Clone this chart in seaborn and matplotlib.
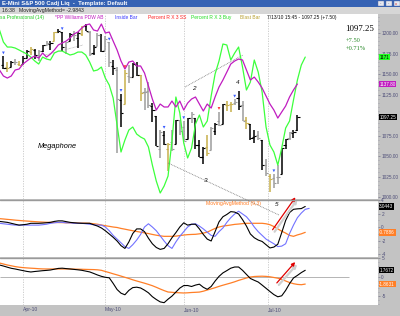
import matplotlib
matplotlib.use("Agg")
import numpy as np
import matplotlib.pyplot as plt
import seaborn as sns
from matplotlib.patches import Rectangle, FancyArrowPatch
from matplotlib.lines import Line2D

sns.set_style("white")
plt.rcParams["font.family"] = ["Liberation Sans", "DejaVu Sans"]

# ------------------------------------------------------------------ data
bar_idx = list(range(-5, 71))          # trading-day index, 0 = 1 Apr 2010
opens = [1161, 1158.5, 1158.75, 1164.75, 1162.75, 1162.25, 1169.75, 1177, 1179.25, 1172.75,
         1178.5, 1186, 1187, 1189.75, 1201.75, 1201.25, 1183, 1190, 1198.25, 1193.5,
         1199, 1208, 1201, 1175.5, 1184.25, 1197.75, 1179.5, 1188.5, 1160.25, 1155.5,
         1118, 1113.25, 1147.5, 1146.5, 1161, 1148.25, 1127.5, 1129.5, 1110.5, 1098.25,
         1058.25, 1075.75, 1058.5, 1066.5, 1065.25, 1093.5, 1085.25, 1071, 1096.75, 1096.5,
         1063.75, 1048.75, 1060.75, 1056.75, 1080.75, 1093, 1089.25, 1112, 1114, 1114.25,
         1120.75, 1112, 1093.5, 1089, 1073, 1075.5, 1069, 1038.5, 1026, 1022.75,
         1025, 1027.5, 1063, 1071.5, 1078.25, 1081.75]
highs = [1171.75, 1165, 1166, 1168.75, 1165.5, 1172.5, 1178.75, 1182.75, 1180.5, 1179.5,
         1185.75, 1190.25, 1190, 1201.75, 1205, 1201.25, 1189, 1199.5, 1202, 1201.25,
         1208.25, 1210.75, 1202.5, 1186, 1200.5, 1199, 1196, 1188.5, 1167, 1158.5,
         1126, 1155, 1161.5, 1164, 1164.5, 1148.25, 1133, 1139.75, 1115.25, 1098.25,
         1081.25, 1081, 1065.75, 1081.75, 1094.5, 1093.5, 1092.75, 1096.5, 1103.75, 1096.5,
         1069.5, 1061.25, 1075.75, 1086, 1090, 1104, 1113.5, 1116.75, 1115.75, 1119,
         1129.25, 1116.5, 1097.5, 1089, 1081.5, 1080.5, 1069, 1046, 1028.5, 1028,
         1039.5, 1060, 1071.25, 1079.25, 1081.75, 1099.5]
lows = [1156, 1152.5, 1158.75, 1161.5, 1159.5, 1161.75, 1169.75, 1173.75, 1168.25, 1166,
        1177, 1185.75, 1179.75, 1189.75, 1199.5, 1177.75, 1174.75, 1190, 1190, 1181.25,
        1196, 1202, 1172.5, 1172.75, 1184.25, 1177.25, 1179.5, 1159, 1149.25, 1054,
        1085.25, 1113.25, 1138.75, 1146.5, 1147, 1117, 1106, 1108.25, 1091.75, 1062.5,
        1047, 1063.75, 1031.75, 1056.5, 1065.25, 1075.75, 1068, 1070.25, 1089.75, 1058.5,
        1048.5, 1040.25, 1050.25, 1056.75, 1075.5, 1087, 1089.25, 1105, 1104, 1112,
        1106.25, 1092.25, 1082.75, 1069.5, 1066, 1069.5, 1033.25, 1026.25, 1005.75, 1011,
        1015.5, 1027.5, 1058.25, 1069, 1071.5, 1081]
closes = [1156.75, 1157.5, 1164.25, 1164.25, 1160.5, 1169, 1178.5, 1180.5, 1173.5, 1177.5,
          1185.5, 1187.5, 1188.25, 1201.75, 1202.75, 1183, 1188.5, 1198.25, 1197, 1199.75,
          1208.25, 1203, 1174.75, 1182.5, 1197.75, 1177.75, 1193.25, 1164.5, 1157, 1119.25,
          1102, 1150.75, 1146.75, 1162.75, 1148.5, 1126.75, 1128, 1111.75, 1106, 1062.5,
          1078.75, 1064.75, 1065, 1059, 1094, 1080.5, 1068.75, 1096.5, 1100.75, 1063,
          1048.5, 1060, 1053.75, 1084.75, 1089.5, 1087.5, 1113.25, 1112.5, 1114, 1115.5,
          1111.25, 1093.25, 1090, 1071.75, 1074.75, 1072.5, 1039.25, 1028.75, 1022.5, 1017.5,
          1025, 1059.25, 1070.25, 1079, 1079.75, 1097.25]
bar_kind = list("kykgykkykg" "kgkykkgkgk" "ykgkgkggkg" "kygkkyggkk"
                "gkygkggkgk" "kkygkgkyyg" "kgykkgkgyg" "gkkgkk")

line_idx = list(range(-6, 73))
green_line = [1203.7, 1189.0, 1182.9, 1182.9, 1181.7, 1179.3, 1176.8, 1174.4, 1170.7, 1165.9,
              1162.2, 1170.7, 1168.3, 1167.1, 1175.6, 1178.0, 1178.0, 1175.6, 1173.2, 1174.4,
              1176.8, 1176.8, 1173.2, 1164.6, 1153.7, 1154.9, 1158.5, 1145.1, 1136.6, 1120.7,
              1087.8, 1054.9, 1069.5, 1081.7, 1085.4, 1076.8, 1073.2, 1070.7, 1061.0, 1039.0,
              1019.5, 1004.9, 1013.4, 1025.6, 1068.3, 1122.0, 1102.4, 1065.9, 1047.6, 1059.8,
              1089.0, 1100.0, 1085.4, 1092.7, 1123.2, 1150.0, 1165.9, 1186.6, 1185.4, 1167.1,
              1175.6, 1182.9, 1158.5, 1130.5, 1140.2, 1167.1, 1152.4, 1128.0, 1085.4, 1063.4,
              1054.9, 1039.0, 1059.8, 1084.1, 1092.7, 1118.3, 1142.7, 1161.0, 1170.7]
magenta_idx = list(range(-6, 71))
magenta_line = [1154.9, 1147.6, 1145.1, 1147.6, 1154.9, 1156.1, 1162.2, 1165.9, 1169.5, 1172.0,
                1169.5, 1175.6, 1170.7, 1174.4, 1179.3, 1185.4, 1187.8, 1190.2, 1193.9, 1198.8,
                1201.2, 1206.1, 1209.8, 1211.0, 1203.7, 1202.4, 1211.0, 1200.0, 1201.2, 1190.2,
                1179.3, 1165.9, 1156.1, 1164.6, 1165.9, 1159.8, 1159.8, 1151.2, 1135.4, 1119.5,
                1106.1, 1113.4, 1109.8, 1109.8, 1117.1, 1109.8, 1117.1, 1106.1, 1114.6, 1119.5,
                1122.0, 1113.4, 1104.9, 1113.4, 1108.5, 1122.0, 1134.1, 1142.7, 1152.4, 1162.2,
                1165.9, 1168.3, 1167.1, 1154.9, 1142.7, 1146.3, 1140.2, 1132.9, 1123.2, 1113.4,
                1106.1, 1096.3, 1103.7, 1111.0, 1122.0, 1130.5, 1137.8]

osc1_black = [0.83, 0.76, 0.69, 0.55, 0.41, 0.28, 0.34, 0.41, 0.55, 0.55,
              0.55, 0.58, 0.63, 0.69, 0.83, 0.91, 0.91, 0.80, 0.69, 0.63,
              0.58, 0.55, 0.55, 0.55, 0.34, 0.14, -0.14, -0.55, -1.03, -1.52,
              -2.07, -2.76, -3.17, -2.21, -0.97, -0.28, -0.28, -0.69, -1.66, -2.48,
              -3.03, -3.31, -3.17, -2.48, -1.59, -0.83, 0.0, 0.62, 0.28, 0.41,
              0.41, -0.28, -1.10, -1.79, -2.07, -0.69, 0.76, 1.52, 1.86, 2.28,
              2.21, 1.93, 1.10, 0.14, -1.03, -1.59, -1.93, -2.14, -2.62, -3.10,
              -2.97, -2.55, -0.83, 0.97, 2.14, 2.62, 2.69, 2.73, 3.0443]
blue_idx = list(range(-6, 74))
osc1_blue = [0.55, 0.48, 0.41, 0.34, 0.28, 0.28, 0.28, 0.28, 0.28, 0.28,
             0.28, 0.34, 0.41, 0.55, 0.62, 0.69, 0.69, 0.62, 0.62, 0.55,
             0.55, 0.55, 0.48, 0.41, 0.34, 0.28, 0.28, 0.0, -0.55, -1.24,
             -1.79, -2.34, -2.90, -3.17, -2.62, -1.93, -1.10, 0.0, 0.48, 0.0,
             -0.55, -1.31, -2.07, -2.76, -3.17, -2.21, -1.38, -0.69, 0.0, 0.41,
             0.48, 0.14, -0.28, -0.76, -1.24, -1.38, -0.69, -0.14, 0.69, 1.38,
             1.93, 2.34, 1.93, 1.52, 0.83, 0.0, -0.69, -1.24, -1.79, -2.14,
             -2.48, -2.90, -2.83, -2.48, -0.97, 0.28, 1.38, 2.07, 2.62, 2.76]
osc1_orange = [1.24, 1.19, 1.13, 1.08, 1.02, 0.97, 0.92, 0.88, 0.84, 0.80,
               0.76, 0.73, 0.70, 0.69, 0.68, 0.66, 0.65, 0.63, 0.62, 0.61,
               0.59, 0.58, 0.57, 0.55, 0.48, 0.41, 0.30, 0.19, 0.10, 0.0,
               -0.07, -0.21, -0.32, -0.44, -0.55, -0.66, -0.76, -0.87, -0.97, -1.10,
               -1.21, -1.31, -1.38, -1.38, -1.38, -1.35, -1.27, -1.19, -1.13, -1.10,
               -1.08, -1.01, -0.90, -0.76, -0.48, -0.21, 0.0, 0.14, 0.21, 0.30,
               0.39, 0.44, 0.50, 0.55, 0.55, 0.55, 0.55, 0.55, 0.48, 0.34,
               0.07, -0.28, -0.62, -0.90, -1.24, -1.38, -1.17, -1.01, -0.7886]
osc2_black = [3.16, 2.89, 2.58, 2.29, 2.11, 1.89, 1.68, 1.47, 1.32, 1.45,
              1.55, 1.66, 1.74, 1.84, 2.05, 2.26, 2.32, 2.21, 2.11, 2.00,
              1.89, 1.76, 1.55, 1.34, 0.95, 0.53, 0.18, -0.08, -0.21, -1.68,
              -3.29, -4.26, -4.68, -3.53, -2.79, -2.68, -2.89, -3.47, -4.16, -5.18,
              -5.92, -6.55, -6.76, -5.84, -5.03, -3.97, -2.92, -2.26, -2.24, -2.50,
              -2.13, -1.89, -2.71, -3.24, -2.50, -1.08, 0.16, 1.08, 1.68, 2.32,
              2.63, 2.63, 1.76, 0.68, -0.39, -0.87, -1.32, -2.13, -2.97, -3.82,
              -4.63, -5.21, -4.95, -3.53, -1.74, -0.26, 0.42, 1.16, 1.7672]
osc2_orange = [3.68, 3.42, 3.16, 2.95, 2.74, 2.58, 2.47, 2.39, 2.32, 2.26,
               2.18, 2.13, 2.11, 2.11, 2.11, 2.11, 2.11, 2.11, 2.11, 2.08,
               2.05, 2.03, 2.00, 1.97, 1.95, 1.89, 1.76, 1.45, 1.16, 0.84,
               0.55, 0.24, -0.08, -0.39, -0.74, -1.05, -1.34, -1.63, -1.95, -2.29,
               -2.71, -3.16, -3.58, -3.95, -4.03, -4.11, -4.16, -4.21, -4.16, -4.08,
               -4.03, -3.97, -3.74, -3.42, -3.13, -2.82, -2.47, -2.16, -1.87, -1.58,
               -1.26, -0.89, -0.58, -0.26, 0.0, 0.13, 0.18, 0.21, 0.16, 0.05,
               -0.13, -0.32, -0.63, -1.05, -1.45, -1.76, -1.95, -2.03, -1.8631]

month_pos = [0, 20.9, 41.1, 62.5]
month_labels = ["Apr-10", "May-10", "Jun-10", "Jul-10"]
price_ticks = [1000, 1025, 1050, 1075, 1100, 1125, 1150, 1175, 1200]
inside_bar_days = [-5, 10, 22, 25, 36, 41, 54, 64]
percent_r_days = [26, 50]
upper_trend = ([41.3, 56.1], [1134.1, 1173.2])
left_trend = ([5.6, 15.3], [1173.2, 1185.4])

# ------------------------------------------------------------------ figure
W, H = 400, 316
fig = plt.figure(figsize=(W / 100, H / 100), dpi=100)
fig.patch.set_facecolor("#c3c3c3")


def px_rect(x0, y0, x1, y1):
    return [x0 / W, 1 - y1 / H, (x1 - x0) / W, (y1 - y0) / H]


def ftext(x, y, s, **kw):
    kw.setdefault("va", "center")
    return fig.text(x / W, 1 - y / H, s, **kw)


XL = -23 / 3.92
XR = (378 - 23) / 3.92
TICK_FS = 3.4

ax0 = fig.add_axes(px_rect(0, 14, 378, 199))
ax1 = fig.add_axes(px_rect(0, 200, 378, 257))
ax2 = fig.add_axes(px_rect(0, 258, 378, 305))
for ax in (ax0, ax1, ax2):
    ax.set_facecolor("white")
    ax.set_xlim(XL, XR)
    for s in ax.spines.values():
        s.set_visible(False)
    ax.yaxis.tick_right()
    ax.tick_params(axis="y", which="major", direction="out", length=1.6, width=0.5,
                   color="#7a7a90", labelsize=TICK_FS, labelcolor="#4e4e78", pad=0.8)
    ax.tick_params(axis="y", which="minor", direction="out", length=1.0, width=0.4,
                   color="#8a8aa0")
    for m in month_pos:
        ax.axvline(m, color="#c6c6c6", lw=0.6, ls=(0, (1.5, 1.5)), zorder=0)
    ax.set_xlabel("")
    ax.set_ylabel("")

# ---- main price panel (the 1100 label sits under the last-price box)
ax0.set_ylim(997.6, 1223.2)
ax0.set_yticks(price_ticks)
ax0.set_yticklabels(["" if v == 1100 else f"{v:.2f}" for v in price_ticks])
ax0.set_yticks(np.arange(1000, 1221, 5), minor=True)
ax0.set_xticks([])

col_map = {"k": "#000000", "g": "#9c9c9c", "y": "#c8b04c"}
cols = [col_map[c] for c in bar_kind]
bx = np.array(bar_idx, dtype=float)
ax0.vlines(bx, lows, highs, colors=cols, lw=1.1, zorder=3)
ax0.hlines(opens, bx - 0.55, bx, colors=cols, lw=0.8, zorder=3)
ax0.hlines(closes, bx, bx + 0.55, colors=cols, lw=0.8, zorder=3)

sns.lineplot(x=line_idx, y=green_line, ax=ax0, color="#3cff3c", lw=0.9,
             estimator=None, sort=False, legend=False, zorder=4)
sns.lineplot(x=magenta_idx, y=magenta_line, ax=ax0, color="#c01cc0", lw=0.9,
             estimator=None, sort=False, legend=False, zorder=4)

hi_map = dict(zip(bar_idx, highs))
sns.scatterplot(x=inside_bar_days, y=[hi_map[d] + 4 for d in inside_bar_days], ax=ax0,
                marker="v", s=4, color="#3a5cff", edgecolor="none", legend=False, zorder=5)
sns.scatterplot(x=percent_r_days, y=[hi_map[d] + 4 for d in percent_r_days], ax=ax0,
                marker="v", s=4, color="#ff3030", edgecolor="none", legend=False, zorder=5)

ax0.plot(*upper_trend, color="#7a7a7a", lw=0.6, ls=(0, (1, 1)), zorder=2)
ax0.plot(*left_trend, color="#a0a0a0", lw=0.5, ls=(0, (1, 1)), zorder=2)

# ---- indicator panel 1
ax1.set_ylim(-4.44, 4.0)
ax1.set_yticks([4, 2, 0, -2, -4])
ax1.set_yticklabels(["4", "2", "0", "-2", "-4"])
ax1.set_yticks(np.arange(-4, 5, 1), minor=True)
ax1.set_xticks([])
sns.lineplot(x=line_idx, y=osc1_orange, ax=ax1, color="#ff7f27", lw=0.9,
             estimator=None, sort=False, legend=False)
sns.lineplot(x=blue_idx, y=osc1_blue, ax=ax1, color="#7272ff", lw=0.8,
             estimator=None, sort=False, legend=False)
sns.lineplot(x=line_idx, y=osc1_black, ax=ax1, color="#000000", lw=0.8,
             estimator=None, sort=False, legend=False)

# ---- indicator panel 2
ax2.set_ylim(-7.37, 5.0)
ax2.set_yticks([5, 0, -5])
ax2.set_yticklabels(["5", "0", "-5"])
ax2.set_yticks(np.arange(-7, 6, 1), minor=True)
ax2.hlines(0, XL, (349 - 23) / 3.92, color="#b4b4b4", lw=0.7, zorder=1)
sns.lineplot(x=line_idx, y=osc2_orange, ax=ax2, color="#ff7f27", lw=0.9,
             estimator=None, sort=False, legend=False)
sns.lineplot(x=line_idx, y=osc2_black, ax=ax2, color="#000000", lw=0.8,
             estimator=None, sort=False, legend=False)
ax2.set_xticks(month_pos)
ax2.set_xticklabels(month_labels, ha="left")
ax2.tick_params(axis="x", length=0, labelsize=3.6, labelcolor="#4e4e78", pad=1.8)
ax2.set_xlabel("")


# ---- last-value boxes on the right scale
def value_box(ax, val, txt, fc, tc):
    ax.annotate(txt, xy=(1.0, val), xycoords=("axes fraction", "data"),
                xytext=(0.9, 0), textcoords="offset points", ha="left", va="center",
                fontsize=3.3, color=tc, annotation_clip=False, zorder=10,
                bbox=dict(boxstyle="square,pad=0.15", fc=fc, ec="none"))


value_box(ax0, green_line[-1], f"{green_line[-1]:.0f}", "#22ff22", "#000000")
value_box(ax0, magenta_line[-1], f"{magenta_line[-1]:.2f}", "#c01cc0", "white")
value_box(ax0, closes[-1], f"{closes[-1]:.2f}", "#000000", "white")
value_box(ax1, osc1_black[-1], f"{osc1_black[-1]:.4f}", "#000000", "white")
value_box(ax1, osc1_orange[-1], f"{osc1_orange[-1]:.4f}", "#ff7f27", "white")
value_box(ax2, osc2_black[-1], f"{osc2_black[-1]:.4f}", "#000000", "white")
value_box(ax2, osc2_orange[-1], f"{osc2_orange[-1]:.4f}", "#ff7f27", "white")

# ---- panel separators
for yy in (199.5, 257.5):
    fig.add_artist(Line2D([0, 378 / W], [1 - yy / H] * 2, color="#9a9a9a", lw=1.0))

# ---- header bars
fig.add_artist(Rectangle((0, 1 - 7 / H), 1, 7 / H, transform=fig.transFigure,
                         fc="#3562b4", ec="none"))
fig.add_artist(Rectangle((0, 1 - 14 / H), 1, 7 / H, transform=fig.transFigure,
                         fc="#d6d6d6", ec="none"))
for bx0, gc in ((378, "#404060"), (386, "#404060"), (393.5, "#d02020")):
    fig.add_artist(Rectangle((bx0 / W, 1 - 6.2 / H), 6 / W, 5.4 / H, transform=fig.transFigure,
                             fc="#e6e8f0", ec="#6070a0", lw=0.3))
    ftext(bx0 + 3, 3.6, "x" if gc == "#d02020" else "-", fontsize=3, color=gc, ha="center")
ftext(2, 3.7, "E-Mini S&P 500 Cadj Liq  -  Template: Default", fontsize=4.2,
      color="white", fontweight="bold")
ftext(2, 10.6, "16:38   MovingAvgMethod= -2.9843", fontsize=3.7, color="#202020")

# ---- legend row
legend_items = [(0, "sa Professional (14)", "#22cc22"), (55, "*PP Williams PDW AB", "#c01cc0"),
                (115, "Inside Bar", "#3a3aff"), (148, "Percent R X 3 SS", "#ff2020"),
                (191, "Percent R X 3 Buy", "#22dd22"), (240, "Blast Bar", "#b8a030"),
                (267, "7/13/10 15:45 - 1097.25 (+7.50)", "#101010")]
for xx, s, c in legend_items:
    ftext(xx, 17.6, s, fontsize=3.5, color=c)

# ---- price info
ftext(345, 29, f"{closes[-1]:.2f}", fontsize=6.3, color="black", family="Liberation Serif")
ftext(346, 40, "+7.50", fontsize=4.6, color="#2a8a2a", family="Liberation Serif")
ftext(346, 49, "+0.71%", fontsize=4.6, color="#2a8a2a", family="Liberation Serif")

# ---- annotations
ftext(57, 147, "Megaphone", fontsize=5.3, style="italic", ha="center", color="black")
for xx, yy, s in ((194, 89, "2"), (238, 82, "4"), (206, 180, "3"), (277, 205, "5")):
    ftext(xx, yy, s, fontsize=4.6, style="italic", ha="center", color="#111111")
ftext(233, 203.5, "MovingAvgMethod (9,3)", fontsize=3.7, color="#ff7a20", ha="center")
fig.add_artist(Line2D([168 / W, 279 / W], [1 - 163 / H, 1 - 215 / H], color="#7a7a7a",
                      lw=0.6, ls=(0, (1, 1))))


def red_arrow(p0, p1):
    a0 = (p0[0] / W, 1 - p0[1] / H)
    a1 = (p1[0] / W, 1 - p1[1] / H)
    s0 = ((p0[0] + 2) / W, 1 - (p0[1] + 2) / H)
    s1 = ((p1[0] + 2) / W, 1 - (p1[1] + 2) / H)
    fig.add_artist(FancyArrowPatch(s0, s1, transform=fig.transFigure, arrowstyle="-|>",
                                   mutation_scale=5, color="#d0d0d0", lw=1.6))
    fig.add_artist(FancyArrowPatch(a0, a1, transform=fig.transFigure, arrowstyle="-|>",
                                   mutation_scale=5, color="#e00000", lw=0.9))


red_arrow((271, 232), (297, 195))
red_arrow((275, 285), (297, 260))

fig.savefig("out.png", dpi=100, facecolor=fig.get_facecolor())
